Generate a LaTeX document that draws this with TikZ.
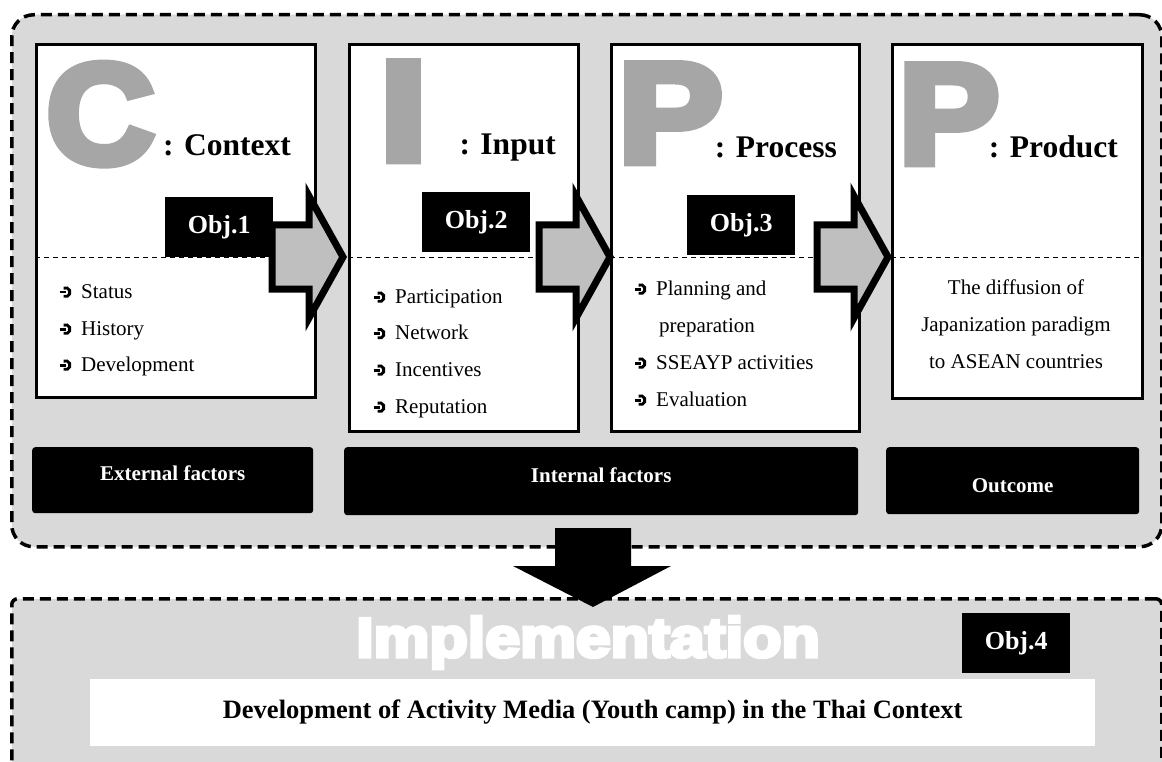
\documentclass[tikz,border=0pt]{standalone}
\usepackage{fontspec}
\setmainfont{Liberation Serif}
\newfontfamily\heavyfont{Liberation Sans}[BoldFeatures={FakeBold=6}]

\definecolor{panelgray}{HTML}{D9D9D9}
\definecolor{lettergray}{HTML}{A6A6A6}
\definecolor{arrowgray}{HTML}{BFBFBF}

\tikzset{
  frame/.style={draw=black, line width=3.5pt, dash pattern=on 11pt off 6pt,
    fill=panelgray, inner sep=0pt, anchor=north west},
  card/.style={draw=black, line width=3pt, fill=white, inner sep=0pt, anchor=north west},
  divider/.style={draw=black, line width=1pt, dash pattern=on 5pt off 4pt},
  bigletter/.style={anchor=base, inner sep=0pt, text=lettergray,
    font=\heavyfont\bfseries\fontsize{142}{142}\selectfont},
  heading/.style={anchor=base east, inner sep=0pt,
    font=\bfseries\fontsize{31.5}{36}\selectfont},
  item/.style={anchor=base west, inner sep=0pt, font=\fontsize{21}{25}\selectfont},
  centreline/.style={anchor=base, inner sep=0pt, font=\fontsize{21}{25}\selectfont},
  objtag/.style={fill=black, text=white, inner sep=0pt, anchor=north west,
    minimum width=108pt, minimum height=60pt,
    font=\bfseries\fontsize{26}{30}\selectfont},
  blockarrow/.style={draw=black, line width=7pt, fill=arrowgray, line join=miter, miter limit=10},
  factorbox/.style={fill=black, rounded corners=3pt, inner sep=0pt, anchor=north west},
  factortext/.style={anchor=base, inner sep=0pt, text=white,
    font=\bfseries\fontsize{21}{25}\selectfont},
}
% list bullet: a heavy hook around a short bar
\newcommand\bul{\makebox[23pt][l]{\tikz[x=1pt,y=1pt,baseline=0pt]{%
  \draw[line width=2.9pt] (6.4,5.8) ++(115:4.5) arc[start angle=115,end angle=-115,radius=4.5];
  \draw[line width=2.6pt] (0.4,5.8) -- (6.4,5.8);}}}

\begin{document}
\begin{tikzpicture}[x=1pt, y=-1pt]
\clip (0,0) rectangle (1162,762);
\fill[white] (0,0) rectangle (1162,762);

% upper CIPP frame
\node[frame, rounded corners=22pt, minimum width=1150pt, minimum height=532pt] (cipp) at (10,13) {};

% the four model cards
\node[card, minimum width=279pt, minimum height=353pt] (ctx)  at (35,43)  {};
\node[card, minimum width=229pt, minimum height=387pt] (inp)  at (348,43) {};
\node[card, minimum width=248pt, minimum height=387pt] (proc) at (610,43) {};
\node[card, minimum width=250pt, minimum height=354pt] (prod) at (891,43) {};

% dashed dividers inside the cards
\foreach \c in {ctx,inp,proc,prod}
  \draw[divider] (\c.west |- 0,257) -- (\c.east |- 0,257);

% large initials
\node[bigletter] (lc)  at (100.5,163) {\scalebox{1.05}[1]{C}};
\node[bigletter] (li)  at (403.5,160) {\scalebox{1.2}[1]{I}};
\node[bigletter] (lp1) at (670.5,162) {\scalebox{1.1}[1]{P}};
\node[bigletter] (lp2) at (949,163)   {\scalebox{1.06}[1]{P}};

% headings
\node[heading] (hctx)  at (291,156)  {: Context};
\node[heading] (hinp)  at (556,155)  {: Input};
\node[heading] (hproc) at (837,158)  {: Process};
\node[heading] (hprod) at (1118,158) {: Product};

% bullet lists
\node[item] (c1) at (58,298) {\bul Status};
\node[item] (c2) at (58,335) {\bul History};
\node[item] (c3) at (58,371) {\bul Development};

\node[item] (i1) at (372,303)   {\bul Participation};
\node[item] (i2) at (372,339.5) {\bul Network};
\node[item] (i3) at (372,376)   {\bul Incentives};
\node[item] (i4) at (372,413)   {\bul Reputation};

\node[item] (p1) at (633,295) {\bul Planning and};
\node[item] (p2) at (659,332) {preparation};
\node[item] (p3) at (633,369) {\bul SSEAYP activities};
\node[item] (p4) at (633,406) {\bul Evaluation};

\node[centreline] (o1) at (1016,294)   {The diffusion of};
\node[centreline] (o2) at (1016,331.5) {Japanization paradigm};
\node[centreline] (o3) at (1016,368)   {to ASEAN countries};

% block arrows between the cards
\foreach \x/\n in {272/a1, 539/a2, 817/a3}
  \draw[blockarrow] (\x,225) -- ++(37,0) -- ++(0,-29) -- ++(34,61)
    -- ++(-34,61) -- ++(0,-29) -- ++(-37,0) -- cycle;

% objective tags
\node[objtag] (obj1) at (165,197) {Obj.1};
\node[objtag] (obj2) at (422,192) {Obj.2};
\node[objtag] (obj3) at (687,195) {Obj.3};

% factor bars
\node[factorbox, minimum width=281pt, minimum height=66pt] (ext) at (32,447)  {};
\node[factorbox, minimum width=514pt, minimum height=68pt] (int) at (344,447) {};
\node[factorbox, minimum width=253pt, minimum height=67pt] (out) at (886,447) {};
\node[factortext] at (ext.center |- 0,480) {External factors};
\node[factortext] at (int.center |- 0,482) {Internal factors};
\node[factortext] at (out.center |- 0,492) {Outcome};

% lower implementation frame
\node[frame, rounded corners=6pt, minimum width=1150pt, minimum height=220pt] (impl) at (10,597) {};

% downward block arrow from the model to the implementation
\fill[black] (555,528) -- (631,528) -- (631,566) -- (671,566) -- (593,607)
  -- (513,566) -- (555,566) -- cycle;

\node[anchor=base, inner sep=0pt, text=white,
  font=\heavyfont\bfseries\fontsize{56}{56}\selectfont] (impltitle) at (588,657)
  {\scalebox{1.12}[1]{Implementation}};

\node[objtag] (obj4) at (962,613) {Obj.4};

\node[fill=white, inner sep=0pt, anchor=north west, minimum width=1005pt, minimum height=67pt] (dev) at (90,679) {};
\node[anchor=base, inner sep=0pt, font=\bfseries\fontsize{26.5}{30}\selectfont]
  (devtext) at (dev.center |- 0,718) {Development of Activity Media (Youth camp) in the Thai Context};
\end{tikzpicture}
\end{document}
